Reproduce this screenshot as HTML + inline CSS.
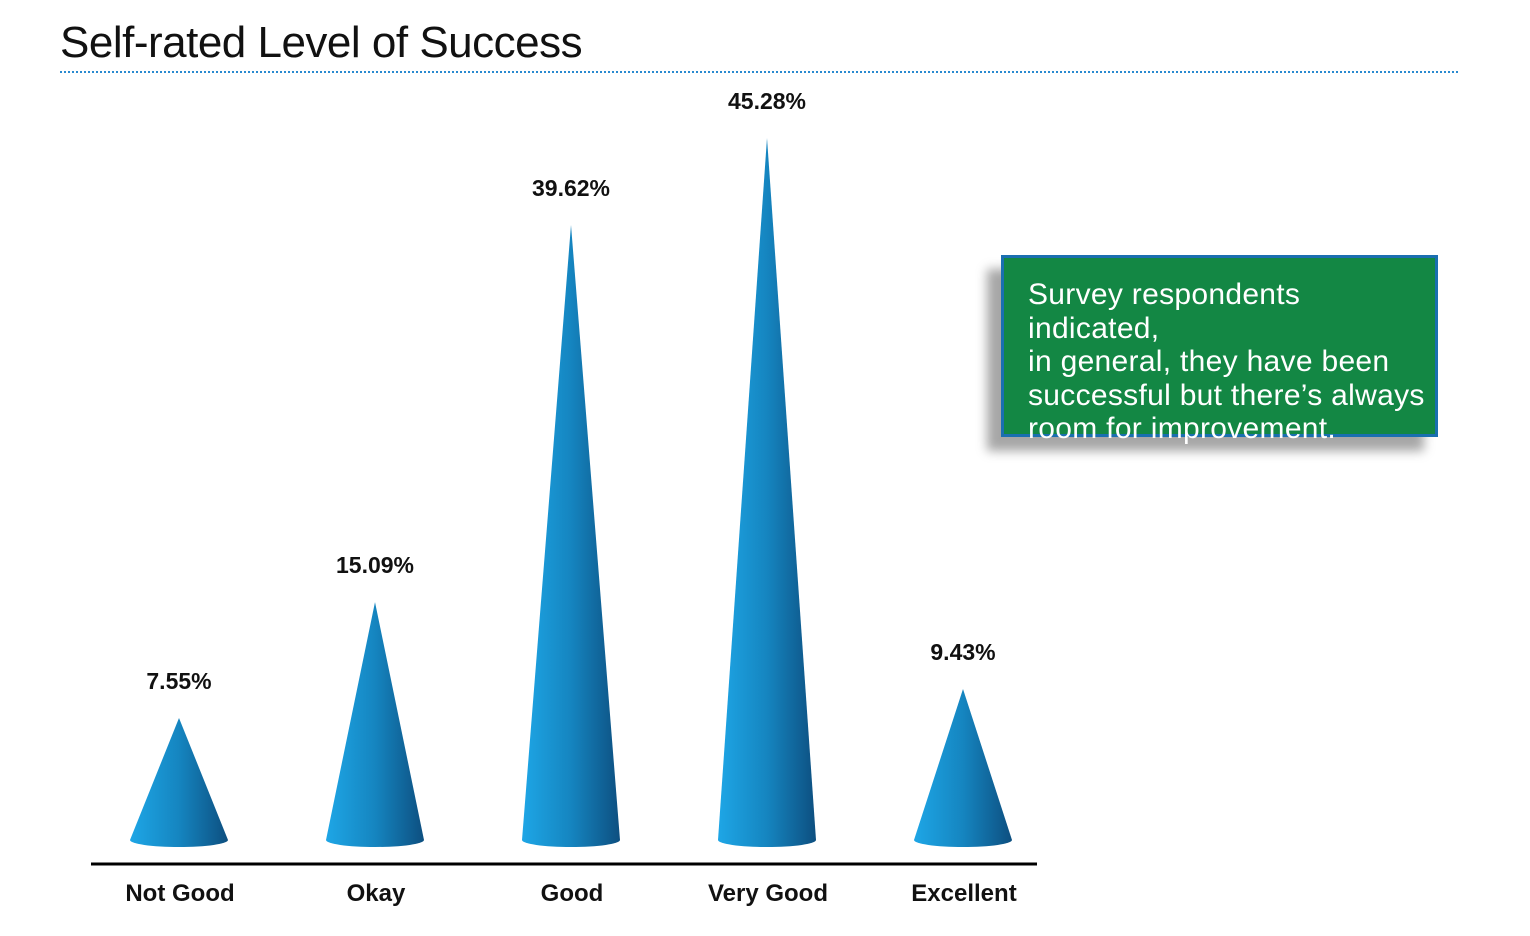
<!DOCTYPE html>
<html><head><meta charset="utf-8"><style>
html,body{margin:0;padding:0;background:#fff;}
body{width:1530px;height:936px;position:relative;overflow:hidden;font-family:"Liberation Sans",sans-serif;}
#title{position:absolute;left:60px;top:18px;font-size:44px;color:#111;letter-spacing:-0.5px;}
#rule{position:absolute;left:60px;top:71px;width:1398px;border-top:2px dotted #2a8ad0;}
#callout{position:absolute;left:1001px;top:255px;width:431px;height:176px;background:#138744;border:3px solid #1a6fb0;box-shadow:-14px 14px 10px rgba(0,0,0,0.35);}
#callout p{margin:0;position:absolute;left:24px;top:20px;color:#fff;font-family:"Liberation Sans Narrow","Liberation Sans",sans-serif;font-size:30px;line-height:33.5px;letter-spacing:0.3px;}
</style></head><body>
<div id="title">Self-rated Level of Success</div>
<div id="rule"></div>
<svg id="chart" width="1530" height="936" style="position:absolute;left:0;top:0">
<defs><linearGradient id="cg" x1="0" x2="1" y1="0" y2="0"><stop offset="0" stop-color="#1ea6e6"/><stop offset="0.5" stop-color="#1585c0"/><stop offset="1" stop-color="#0d4f80"/></linearGradient></defs>
<g id="cones"></g>
<line x1="91" y1="864" x2="1037" y2="864" stroke="#000" stroke-width="3"/>
</svg>
<div id="callout"><p>Survey respondents indicated,<br>in general, they have been<br>successful but there’s always<br>room for improvement.</p></div>
<script>
const categories=["Not Good","Okay","Good","Very Good","Excellent"];
const values=[7.55,15.09,39.62,45.28,9.43];
const valueLabels=["7.55%","15.09%","39.62%","45.28%","9.43%"];
const base=834,k=15.37,x0=179,step=196,hw=49;
function xs(i){return x0+i*step;}
function ys(v){return base-k*v;}
const g=document.getElementById('cones');const NS="http://www.w3.org/2000/svg";
categories.forEach((c,i)=>{
 const cx=xs(i),ty=ys(values[i]),by=840;
 const p=document.createElementNS(NS,'path');
 p.setAttribute('d',`M${cx},${ty} L${cx+hw},${by} A${hw},7 0 0 1 ${cx-hw},${by} Z`);
 p.setAttribute('fill','url(#cg)');
 
 
 g.appendChild(p);
 const t=document.createElementNS(NS,'text');
 t.setAttribute('x',cx);t.setAttribute('y',ty-29);t.setAttribute('text-anchor','middle');
 t.setAttribute('font-size','23');t.setAttribute('font-weight','bold');t.setAttribute('fill','#111');
 t.setAttribute('font-family','Liberation Sans, sans-serif');
 t.textContent=valueLabels[i];
 
 
 g.appendChild(t);
 const l=document.createElementNS(NS,'text');
 l.setAttribute('x',cx+1);l.setAttribute('y',901);l.setAttribute('text-anchor','middle');
 l.setAttribute('font-size','24');l.setAttribute('font-weight','bold');l.setAttribute('fill','#111');
 l.setAttribute('font-family','Liberation Sans, sans-serif');
 l.textContent=c;
 
 
 g.appendChild(l);
});
</script>
</body></html>
